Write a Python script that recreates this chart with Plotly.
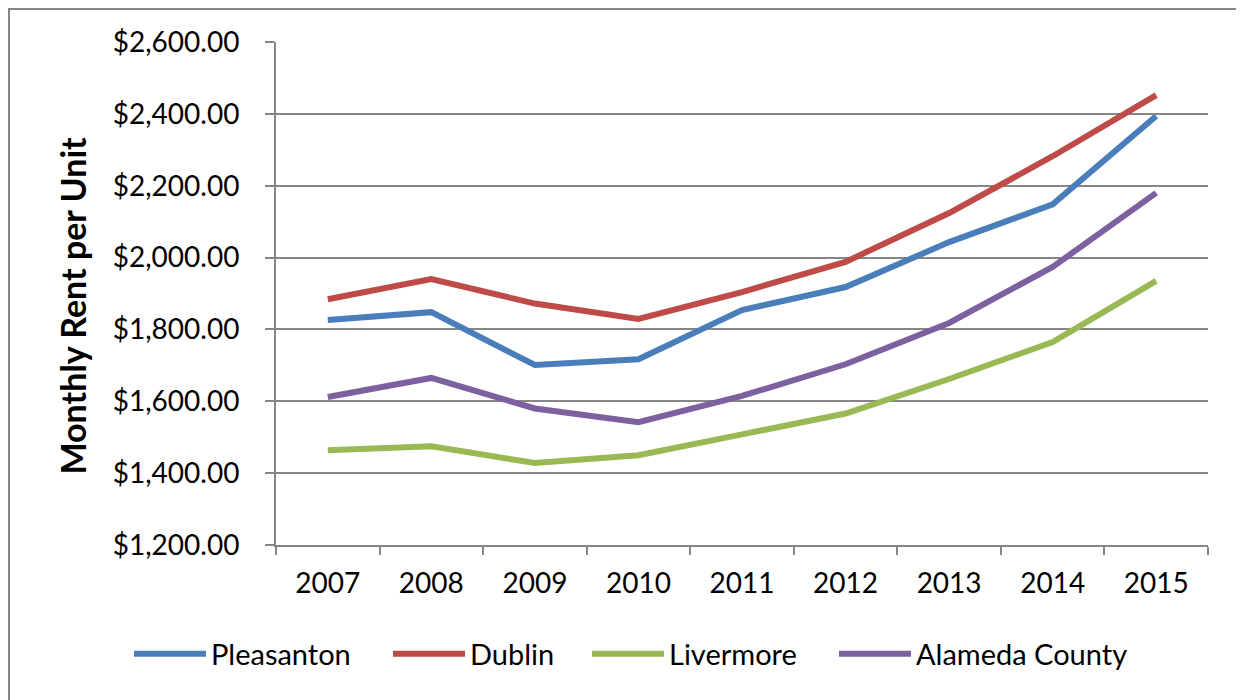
import plotly.graph_objects as go

years = ["2007", "2008", "2009", "2010", "2011", "2012", "2013", "2014", "2015"]
pleasanton = [1826, 1848, 1701, 1717, 1854, 1918, 2043, 2148, 2394]
dublin = [1884, 1940, 1872, 1829, 1904, 1988, 2124, 2282, 2452]
livermore = [1464, 1475, 1428, 1450, 1508, 1566, 1662, 1765, 1935]
alameda = [1612, 1665, 1580, 1542, 1615, 1703, 1818, 1974, 2180]

series = [
    ("Pleasanton", pleasanton, "#4A7EBB"),
    ("Dublin", dublin, "#BE4B48"),
    ("Livermore", livermore, "#98B954"),
    ("Alameda County", alameda, "#7D60A0"),
]

FONT = "Lato, Carlito, Calibri, sans-serif"

W, H = 1236, 692
L, R, T, B = 268, 36, 34, 155
PW = W - L - R
PH = H - T - B

# legend line start positions (figure px)
leg_px = [126, 385, 584, 831]
leg_y_px = 646

fig = go.Figure()
legend_names = ["legend", "legend2", "legend3", "legend4"]
for (name, vals, color), lg in zip(series, legend_names):
    fig.add_trace(go.Scatter(
        x=years, y=vals, name=name, mode="lines",
        line=dict(color=color, width=6),
        legend=lg,
    ))

layout_legends = {}
for lg, px in zip(legend_names, leg_px):
    layout_legends[lg] = dict(
        orientation="h", x=(px - 5 - L) / PW, xanchor="left",
        y=(H - B - leg_y_px) / PH, yanchor="middle",
        font=dict(family=FONT, size=29, color="black"),
        itemwidth=72, bgcolor="rgba(0,0,0,0)", borderwidth=0,
    )

fig.update_layout(
    width=W, height=H,
    paper_bgcolor="white", plot_bgcolor="white",
    margin=dict(l=L, r=R, t=T, b=B),
    font=dict(family=FONT, size=28, color="black"),
    showlegend=True,
    xaxis=dict(
        type="category", showgrid=False, showline=True, linecolor="#868686", linewidth=2,
        ticks="outside", tickson="boundaries", ticklen=8, tickcolor="#868686", tickwidth=2,
        tickfont=dict(family=FONT, size=28, color="black"),
        ticklabelstandoff=12,
        range=[-0.5, 8.5],
    ),
    yaxis=dict(
        range=[1200, 2600], dtick=200, tick0=1200,
        tickformat="$,.2f",
        showgrid=True, gridcolor="#868686", gridwidth=2,
        showline=True, linecolor="#868686", linewidth=2,
        ticks="outside", ticklen=9, tickcolor="#868686", tickwidth=2,
        tickfont=dict(family=FONT, size=28, color="black"),
        ticklabelstandoff=20,
        title=dict(text="<b>Monthly Rent per Unit\u00a0\u00a0\u00a0</b>",
                   font=dict(family=FONT, size=34, color="black"),
                   standoff=16),
        zeroline=False,
    ),
    shapes=[
        dict(type="rect", xref="paper", yref="paper",
             x0=(1 - L) / PW, x1=(W + 10 - L) / PW,
             y0=(H - B - H - 10) / PH, y1=(H - B - 1) / PH,
             line=dict(color="#868686", width=2), fillcolor="rgba(0,0,0,0)", layer="below"),
    ],
    **layout_legends,
)

fig.write_html("out.html")
